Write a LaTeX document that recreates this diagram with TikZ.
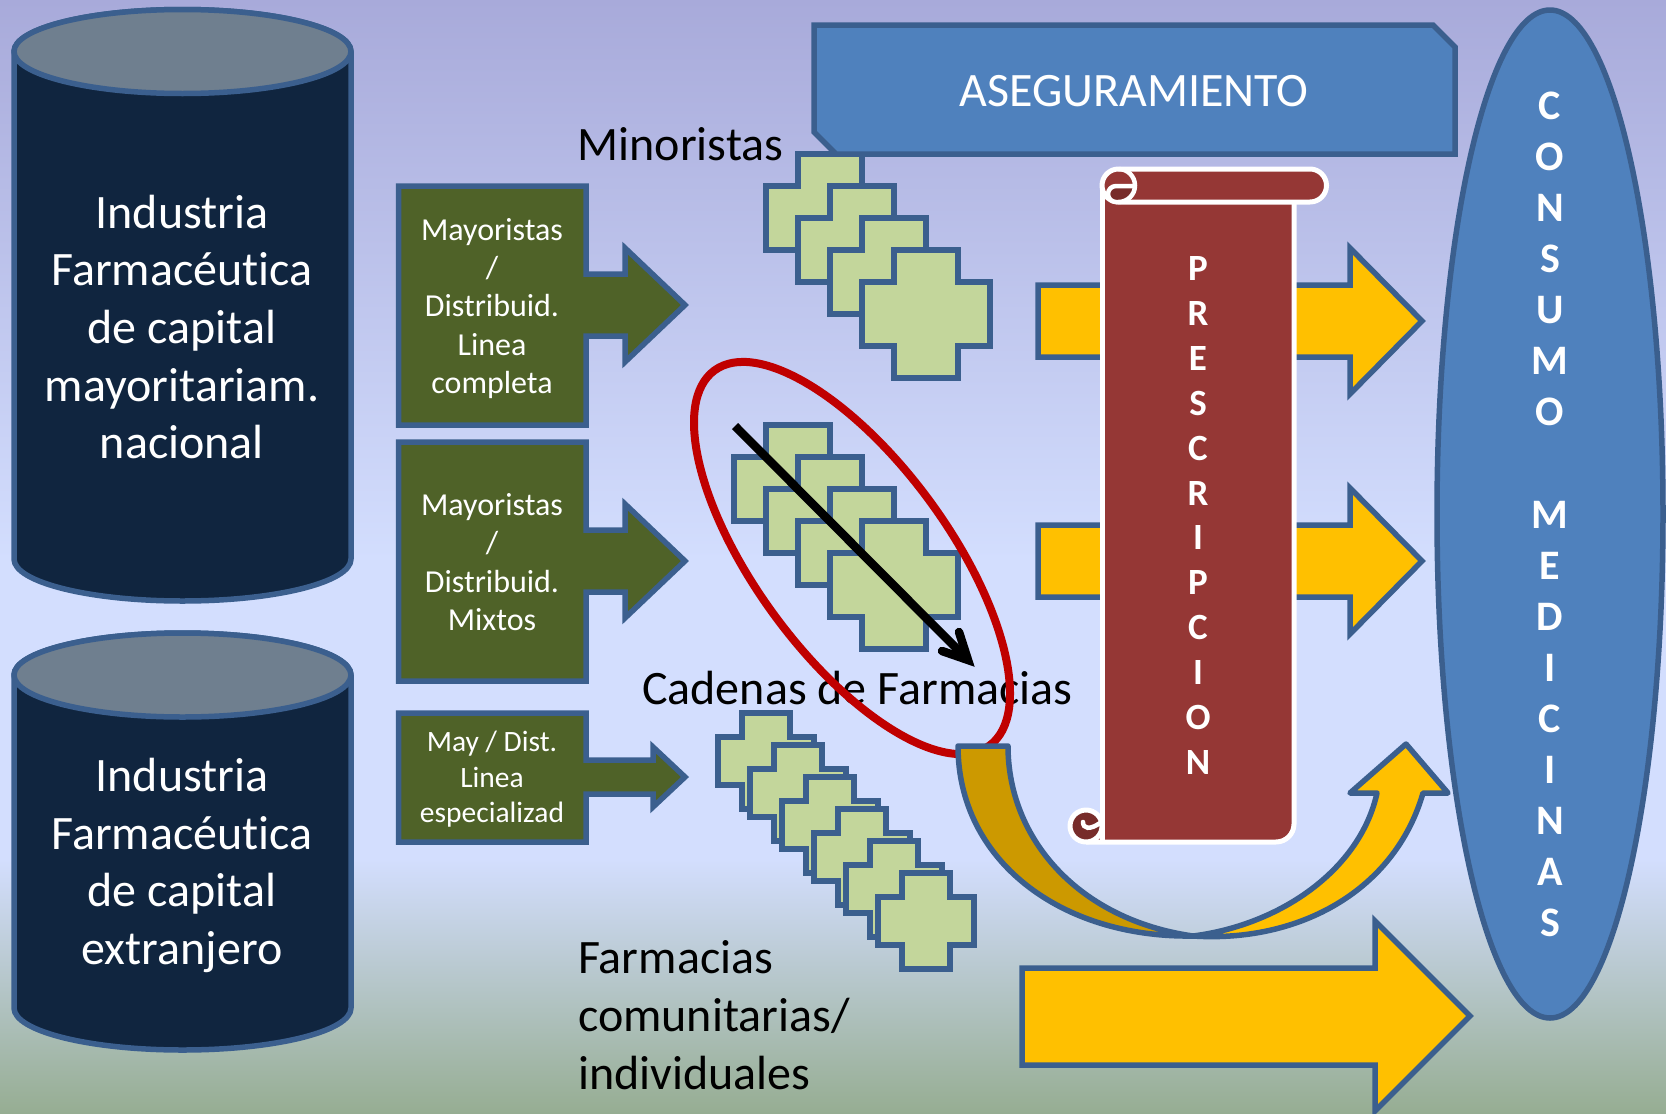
\documentclass[tikz,border=0pt]{standalone}
\usepackage{fontspec}
\setmainfont{Carlito}[Ligatures=NoCommon]
\usetikzlibrary{calc}
\definecolor{edgeblue}{HTML}{3B5F8E}
\definecolor{navy}{HTML}{10253F}
\definecolor{captop}{HTML}{6F7F8F}
\definecolor{olive}{HTML}{4F6228}
\definecolor{leaf}{HTML}{C3D69B}
\definecolor{gold}{HTML}{FFC000}
\definecolor{darkgold}{HTML}{CC9900}
\definecolor{scrollred}{HTML}{953735}
\definecolor{scrolldark}{HTML}{772C2A}
\definecolor{skyblue}{HTML}{4F81BD}
\definecolor{ringred}{HTML}{C00000}
\definecolor{bgtop}{RGB}{168,170,218}
\definecolor{bgmid}{RGB}{211,222,254}
\definecolor{bgbot}{RGB}{150,173,146}
\tikzset{
  edge/.style={draw=edgeblue,line width=5.5pt,line join=round},
  crossshape/.style={edge,fill=leaf,line join=miter},
  bigtext/.style={font=\fontsize{48}{57.7}\selectfont,text=white,align=center,inner sep=0pt},
  labeltext/.style={font=\fontsize{48}{57.7}\selectfont,text=black,align=left,anchor=west,inner sep=0pt},
  boxtext/.style={font=\fontsize{32}{38.25}\selectfont,text=white,align=center,inner sep=0pt},
  smallboxtext/.style={font=\fontsize{29.5}{35.5}\selectfont,text=white,align=center,inner sep=0pt},
  scrollline/.style={draw=white,line width=5pt,line join=round},
  lettercol/.style={font=\fontsize{37}{44.85}\selectfont\bfseries,text=white,align=center,inner sep=0pt},
  lettercolb/.style={font=\fontsize{42}{51.1}\selectfont\bfseries,text=white,align=center,inner sep=0pt},
}
\newcommand{\cyl}[3]{%
  \draw[edge,fill=navy] (14,#1) -- (14,#2) arc[start angle=180,end angle=0,x radius=168.5,y radius=#3] -- (351,#1) arc[start angle=0,end angle=-180,x radius=168.5,y radius=#3] -- cycle;
  \draw[edge,fill=captop] (182.5,#1) ellipse[x radius=168.5,y radius=#3];
}
\newcommand{\plusat}[3]{%
  \pgfmathsetmacro{\qa}{#3/4}\pgfmathsetmacro{\qb}{3*#3/4}%
  \draw[crossshape,shift={(#1,#2)}] (\qa,0) -- (\qb,0) -- (\qb,\qa) -- (#3,\qa) -- (#3,\qb) -- (\qb,\qb) -- (\qb,#3) -- (\qa,#3) -- (\qa,\qb) -- (0,\qb) -- (0,\qa) -- (\qa,\qa) -- cycle;
}
\newcommand{\greenbox}[6]{%
  \draw[edge,fill=olive,line join=miter] (398.5,#1) -- (586,#1) -- (586,#3-#4) -- (#6,#3-#4) -- (#6,#3-#5) -- (685,#3) -- (#6,#3+#5) -- (#6,#3+#4) -- (586,#3+#4) -- (586,#2) -- (398.5,#2) -- cycle;
}
\newcommand{\goldarrow}[1]{%
  \draw[edge,fill=gold,line join=miter] (1038,#1-36) -- (1350,#1-36) -- (1350,#1-73) -- (1422,#1) -- (1350,#1+73) -- (1350,#1+36) -- (1038,#1+36) -- cycle;
}
\begin{document}
\begin{tikzpicture}[x=1pt,y=-1pt]
\useasboundingbox (0,0) rectangle (1666,1114);
% background
\shade[top color=bgtop,bottom color=bgmid] (0,0) rectangle (1666,560);
\fill[bgmid] (0,559) rectangle (1666,860);
\shade[top color=bgmid,bottom color=bgbot] (0,859) rectangle (1666,1114);
% cylinders
\cyl{51.5}{559}{42}
\cyl{675}{1008}{42}
\node[bigtext] (ind1) at (182,327) {Industria\\Farmacéutica\\de capital\\mayoritariam.\\nacional};
\node[bigtext] (ind2) at (182,865.5) {Industria\\Farmacéutica\\de capital\\extranjero};
% wholesalers
\greenbox{186}{425}{305}{31}{57}{625}
\greenbox{442}{681}{561}{31}{57}{625}
\greenbox{713}{842}{777}{17}{30}{653}
\node[boxtext] (may1) at (492,308.5) {Mayoristas\\/\\Distribuid.\\Linea\\completa};
\node[boxtext] (may2) at (492,562) {Mayoristas\\/\\Distribuid.\\Mixtos};
\node[smallboxtext] (may3) at (492,779.5) {May / Dist.\\Linea\\especializad};
% crosses: retail
\plusat{766}{154}{128}
\plusat{798}{186}{128}
\plusat{830}{218}{128}
\plusat{862}{250}{128}
% crosses: chains
\plusat{734}{425}{128}
\plusat{766}{457}{128}
\plusat{798}{489}{128}
\plusat{830}{521}{128}
% crosses: community
\plusat{718}{713}{96}
\plusat{750}{745}{96}
\plusat{782}{777}{96}
\plusat{814}{809}{96}
\plusat{846}{841}{96}
\plusat{878}{873}{96}
% labels
\node[labeltext] (minor) at (577.5,144.5) {Minoristas};
\node[labeltext] (cad) at (642,688) {Cadenas de Farmacias};
\node[labeltext] (farm) at (578,1015) {Farmacias\\comunitarias/\\individuales};
% ring and black arrow
\draw[ringred,line width=8pt,rotate around={-53.75:(852,558)}] (852,558) ellipse[x radius=232.6,y radius=96.4];
\coordinate (arrA) at (735,426);
\coordinate (arrB) at (964,656);
\coordinate (tip) at (968,660);
\draw[black,line width=8.5pt] (arrA) -- (arrB);
\draw[black,line width=8.5pt,line cap=round,line join=miter] (959,632) -- (tip) -- (942,651);
% gold arrows
\goldarrow{321}
\goldarrow{561}
\draw[edge,fill=gold,line join=miter] (1022,968) -- (1375,968) -- (1375,921) -- (1470,1016) -- (1375,1111) -- (1375,1065) -- (1022,1065) -- cycle;
% scroll
\fill[scrollred] (1102,186) -- (1294,186) -- (1294,824) arc[start angle=0,end angle=90,radius=18] -- (1086,842) -- (1102,826) -- cycle;
\draw[scrollline] (1102,186) -- (1102,842);
\draw[scrollline] (1086,842) -- (1276,842) arc[start angle=90,end angle=0,radius=18] -- (1294,202);
\draw[scrollline,fill=scrollred] (1118.5,169) -- (1310,169) arc[start angle=-90,end angle=90,radius=16.5] -- (1118.5,202) arc[start angle=90,end angle=270,radius=16.5] -- cycle;
\fill[scrolldark] (1110,186) -- (1135,186) arc[start angle=0,end angle=90,radius=16.5] -- (1116,202) arc[start angle=90,end angle=270,radius=8] -- cycle;
\draw[scrollline,line width=4.5pt] (1118.5,169) arc[start angle=-90,end angle=90,radius=16.5] -- (1116,202) arc[start angle=90,end angle=270,radius=8] -- (1135,186);
\node[lettercol] (presc) at (1198,515.5) {P\\R\\E\\S\\C\\R\\I\\P\\C\\I\\O\\N};
\draw[scrollline,fill=scrolldark] (1086,826) circle[radius=16];
\draw[white,line width=4.5pt,line cap=round] (1083,822) .. controls (1083,829) and (1090,830) .. (1100,823);
% U-turn arrow
\draw[edge,fill=darkgold] (958,746) -- (1008,746) .. controls (1008,840) and (1080,920) .. (1193,936) .. controls (1060,938) and (958,860) .. (958,746) -- cycle;
\draw[edge,fill=gold] (1193,936) .. controls (1280,925) and (1360,870) .. (1377,793) -- (1350,793) -- (1406,744) -- (1448,793) -- (1423,793) .. controls (1395,890) and (1300,943) .. (1193,936) -- cycle;
% banner
\draw[edge,fill=skyblue,line join=miter] (814,25) -- (1433,25) -- (1455,47) -- (1455,154) -- (836,154) -- (814,132) -- cycle;
\node[font=\fontsize{48}{58}\selectfont,text=white,inner sep=0pt] (aseg) at (1134,91) {ASEGURAMIENTO};
% ellipse
\draw[edge,fill=skyblue] (1550,514) ellipse[x radius=113,y radius=504];
\node[lettercolb] (cons) at (1550,514.5) {C\\O\\N\\S\\U\\M\\O\\[51.1pt]M\\E\\D\\I\\C\\I\\N\\A\\S};
\end{tikzpicture}
\end{document}
